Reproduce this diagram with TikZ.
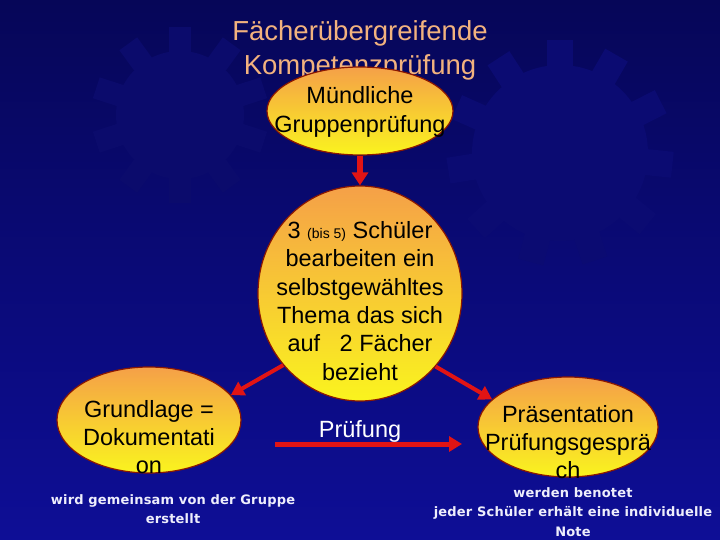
\documentclass[tikz,border=0pt]{standalone}
\usepackage{fontspec}
\setmainfont{Liberation Sans}
\newfontfamily\notefont[LetterSpace=1.5]{DejaVu Sans}
\usetikzlibrary{shapes.geometric,arrows.meta}
\definecolor{bgtop}{RGB}{6,6,88}
\definecolor{bgbot}{RGB}{14,14,150}
\definecolor{gearL}{RGB}{11,11,108}
\definecolor{gearR}{RGB}{11,11,114}
\definecolor{titlec}{RGB}{242,178,126}
\definecolor{ellTop}{RGB}{245,160,72}
\definecolor{ellBot}{RGB}{250,244,30}
\definecolor{ellBorder}{RGB}{140,24,0}
\definecolor{arrowred}{RGB}{225,20,20}
\definecolor{notec}{RGB}{238,238,252}
\tikzset{
  bubble/.style={ellipse, draw=ellBorder, line width=1.2pt, top color=ellTop, bottom color=ellBot, inner sep=0pt},
  bubbletext/.style={align=center, text=black, font=\fontsize{23.5}{28.3}\selectfont, inner sep=0pt},
  redarrow/.style={draw=arrowred, line width=4.5pt, -{Triangle[length=13pt,width=15pt]}},
  notetext/.style={align=center, text=notec, font=\notefont\bfseries\fontsize{13}{19.5}\selectfont, inner sep=0pt},
}
\begin{document}
\begin{tikzpicture}[x=1pt,y=-1pt]
\useasboundingbox (0,0) rectangle (720,540);
\fill[top color=bgtop, bottom color=bgbot] (0,0) rectangle (720,540);
% background gears
\begin{scope}[shift={(180,115)}]
  \fill[gearL] (0,0) circle (64);
  \foreach \a in {0,36,...,324} \fill[gearL, rotate=\a] (-11,-88) rectangle (11,0);
\end{scope}
\begin{scope}[shift={(560,153)}]
  \fill[gearR] (0,0) circle (88);
  \foreach \a in {0,33,...,330} \fill[gearR, rotate=\a] (-13,-113) rectangle (13,0);
\end{scope}
% title
\node[name=title, align=center, text=titlec, font=\fontsize{27.5}{34}\selectfont, inner sep=0pt] at (360,50) {Fächerübergreifende\\Kompetenzprüfung};
% bubbles
\node[bubble, name=top, minimum width=186pt, minimum height=88pt] at (360,111) {};
\node[bubble, name=circ, minimum width=204pt, minimum height=215pt] at (360,293.5) {};
\node[bubble, name=lell, minimum width=184pt, minimum height=106pt] at (149,420) {};
\node[bubble, name=rell, minimum width=180pt, minimum height=100pt] at (568,427) {};
% connectors
\coordinate (pa) at (275,444);
\coordinate (pb) at (462,444);
\draw[redarrow, line width=6pt, -{Triangle[length=13pt,width=16pt]}] (top.south) -- (circ.north);
\draw[redarrow, line width=4pt] (circ.223) -- (lell.17);
\draw[redarrow, line width=4pt] (circ.316) -- (rell.160);
\draw[redarrow, line width=5pt] (pa) -- (pb);
% texts
\node[bubbletext, name=toptext] at (360,112) {Mündliche\\Gruppenprüfung};
\node[bubbletext, name=circtext] at (360,301) {3 {\fontsize{14}{14}\selectfont(bis 5)} Schüler\\bearbeiten ein\\selbstgewähltes\\Thema das sich\\auf\ \ \ 2 Fächer\\bezieht};
\node[bubbletext, name=ltext] at (149,437) {Grundlage =\\Dokumentati\\on};
\node[bubbletext, name=rtext] at (568,442) {Präsentation\\Prüfungsgesprä\\ch};
\node[bubbletext, name=pruef, text=white] at (360,431) {Prüfung};
\node[notetext, name=lnote] at (173,509) {wird gemeinsam von der Gruppe\\erstellt};
\node[notetext, name=rnote] at (573,512) {werden benotet\\jeder Schüler erhält eine individuelle\\Note};
\end{tikzpicture}
\end{document}
